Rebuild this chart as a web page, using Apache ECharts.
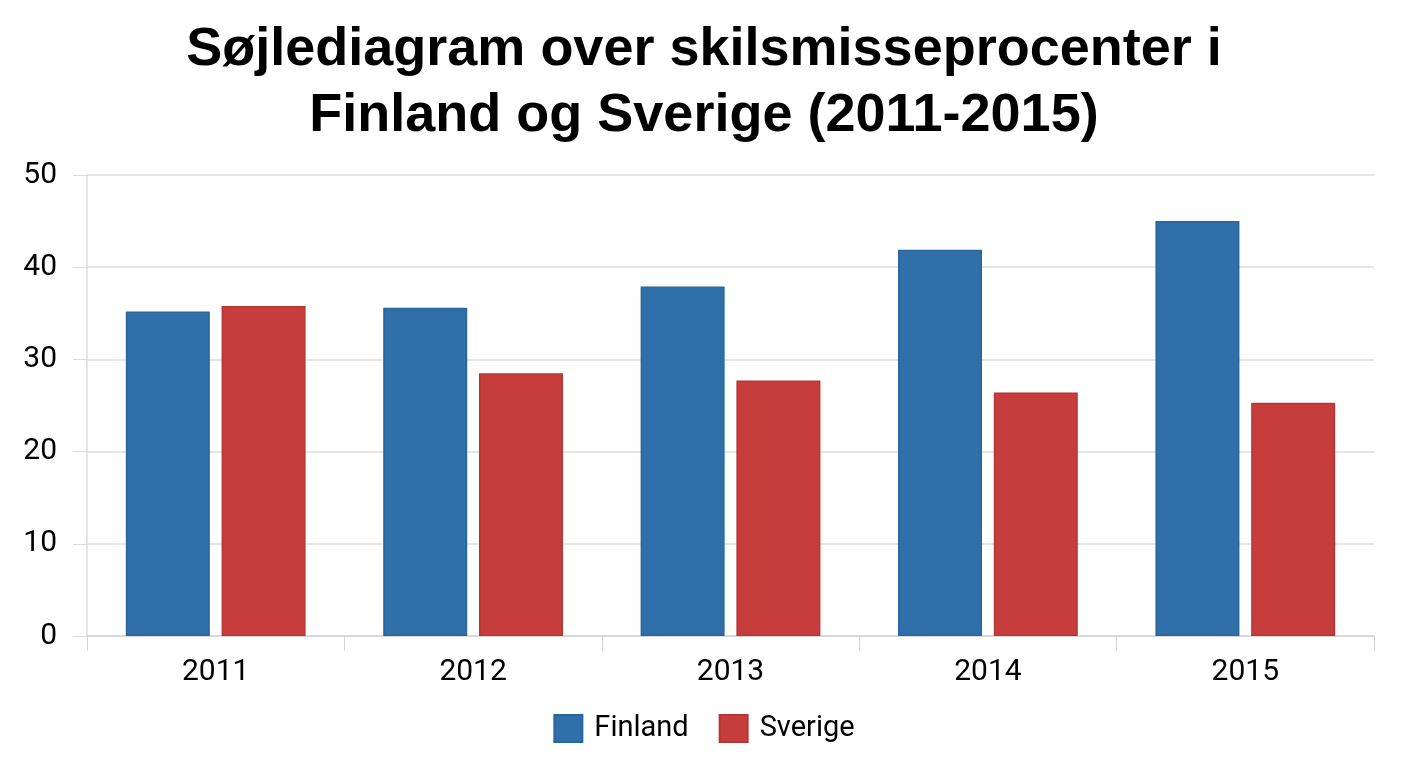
<!DOCTYPE html>
<html lang="da">

<head>
    <meta charset="UTF-8">
    <title>Skilsmisseprocenter</title>
    <script src="https://cdn.jsdelivr.net/npm/echarts@6/dist/echarts.min.js"></script>
    <style>
        html, body { margin: 0; padding: 0; background: #fff; }
        #main { width: 1408px; height: 768px; }
    </style>
</head>

<body>
    <div id="main"></div>
    <script>
        // data
        const years = ['2011', '2012', '2013', '2014', '2015'];
        const finland = [35.2, 35.6, 37.9, 41.9, 45.0];
        const sverige = [35.8, 28.5, 27.7, 26.4, 25.3];

        const myChart = echarts.init(document.getElementById('main'));

        const option = {
            backgroundColor: '#fff',
            title: {
                text: 'Søjlediagram over skilsmisseprocenter i\nFinland og Sverige (2011-2015)',
                left: 'center',
                top: 12,
                textStyle: {
                    fontFamily: 'Liberation Sans',
                    fontWeight: 'bold',
                    fontSize: 54,
                    lineHeight: 66,
                    color: '#000'
                }
            },
            legend: {
                data: ['Finland', 'Sverige'],
                left: 'center',
                top: 709,
                itemWidth: 28,
                itemHeight: 27,
                itemGap: 30,
                icon: 'rect',
                textStyle: { fontFamily: 'Roboto', fontSize: 29, color: '#000', padding: [0, 0, 0, 7] }
            },
            grid: { left: 87, right: 34, top: 175, bottom: 132 },
            xAxis: {
                type: 'category',
                data: years,
                axisLine: { lineStyle: { color: '#d4d4d4', width: 1.5 } },
                axisTick: { show: true, length: 15, lineStyle: { color: '#d4d4d4' } },
                axisLabel: { fontFamily: 'Roboto', fontSize: 30, color: '#000', margin: 21 }
            },
            yAxis: {
                type: 'value',
                min: 0,
                max: 50,
                interval: 10,
                axisLine: { show: true, lineStyle: { color: '#dcdcdc', width: 1.5 } },
                axisTick: { show: true, length: 14, lineStyle: { color: '#dcdcdc' } },
                splitLine: { lineStyle: { color: '#dcdcdc', width: 1.5 } },
                axisLabel: { fontFamily: 'Roboto', fontSize: 30, color: '#000', margin: 30 }
            },
            series: [
                {
                    name: 'Finland',
                    type: 'bar',
                    data: finland,
                    barWidth: 84,
                    barGap: '14%',
                    itemStyle: { color: '#2f6faa', borderColor: '#2a659c', borderWidth: 1.5 }
                },
                {
                    name: 'Sverige',
                    type: 'bar',
                    data: sverige,
                    barWidth: 84,
                    itemStyle: { color: '#c63d3b', borderColor: '#b53634', borderWidth: 1.5 }
                }
            ]
        };

        myChart.setOption(option);
    </script>
</body>

</html>
